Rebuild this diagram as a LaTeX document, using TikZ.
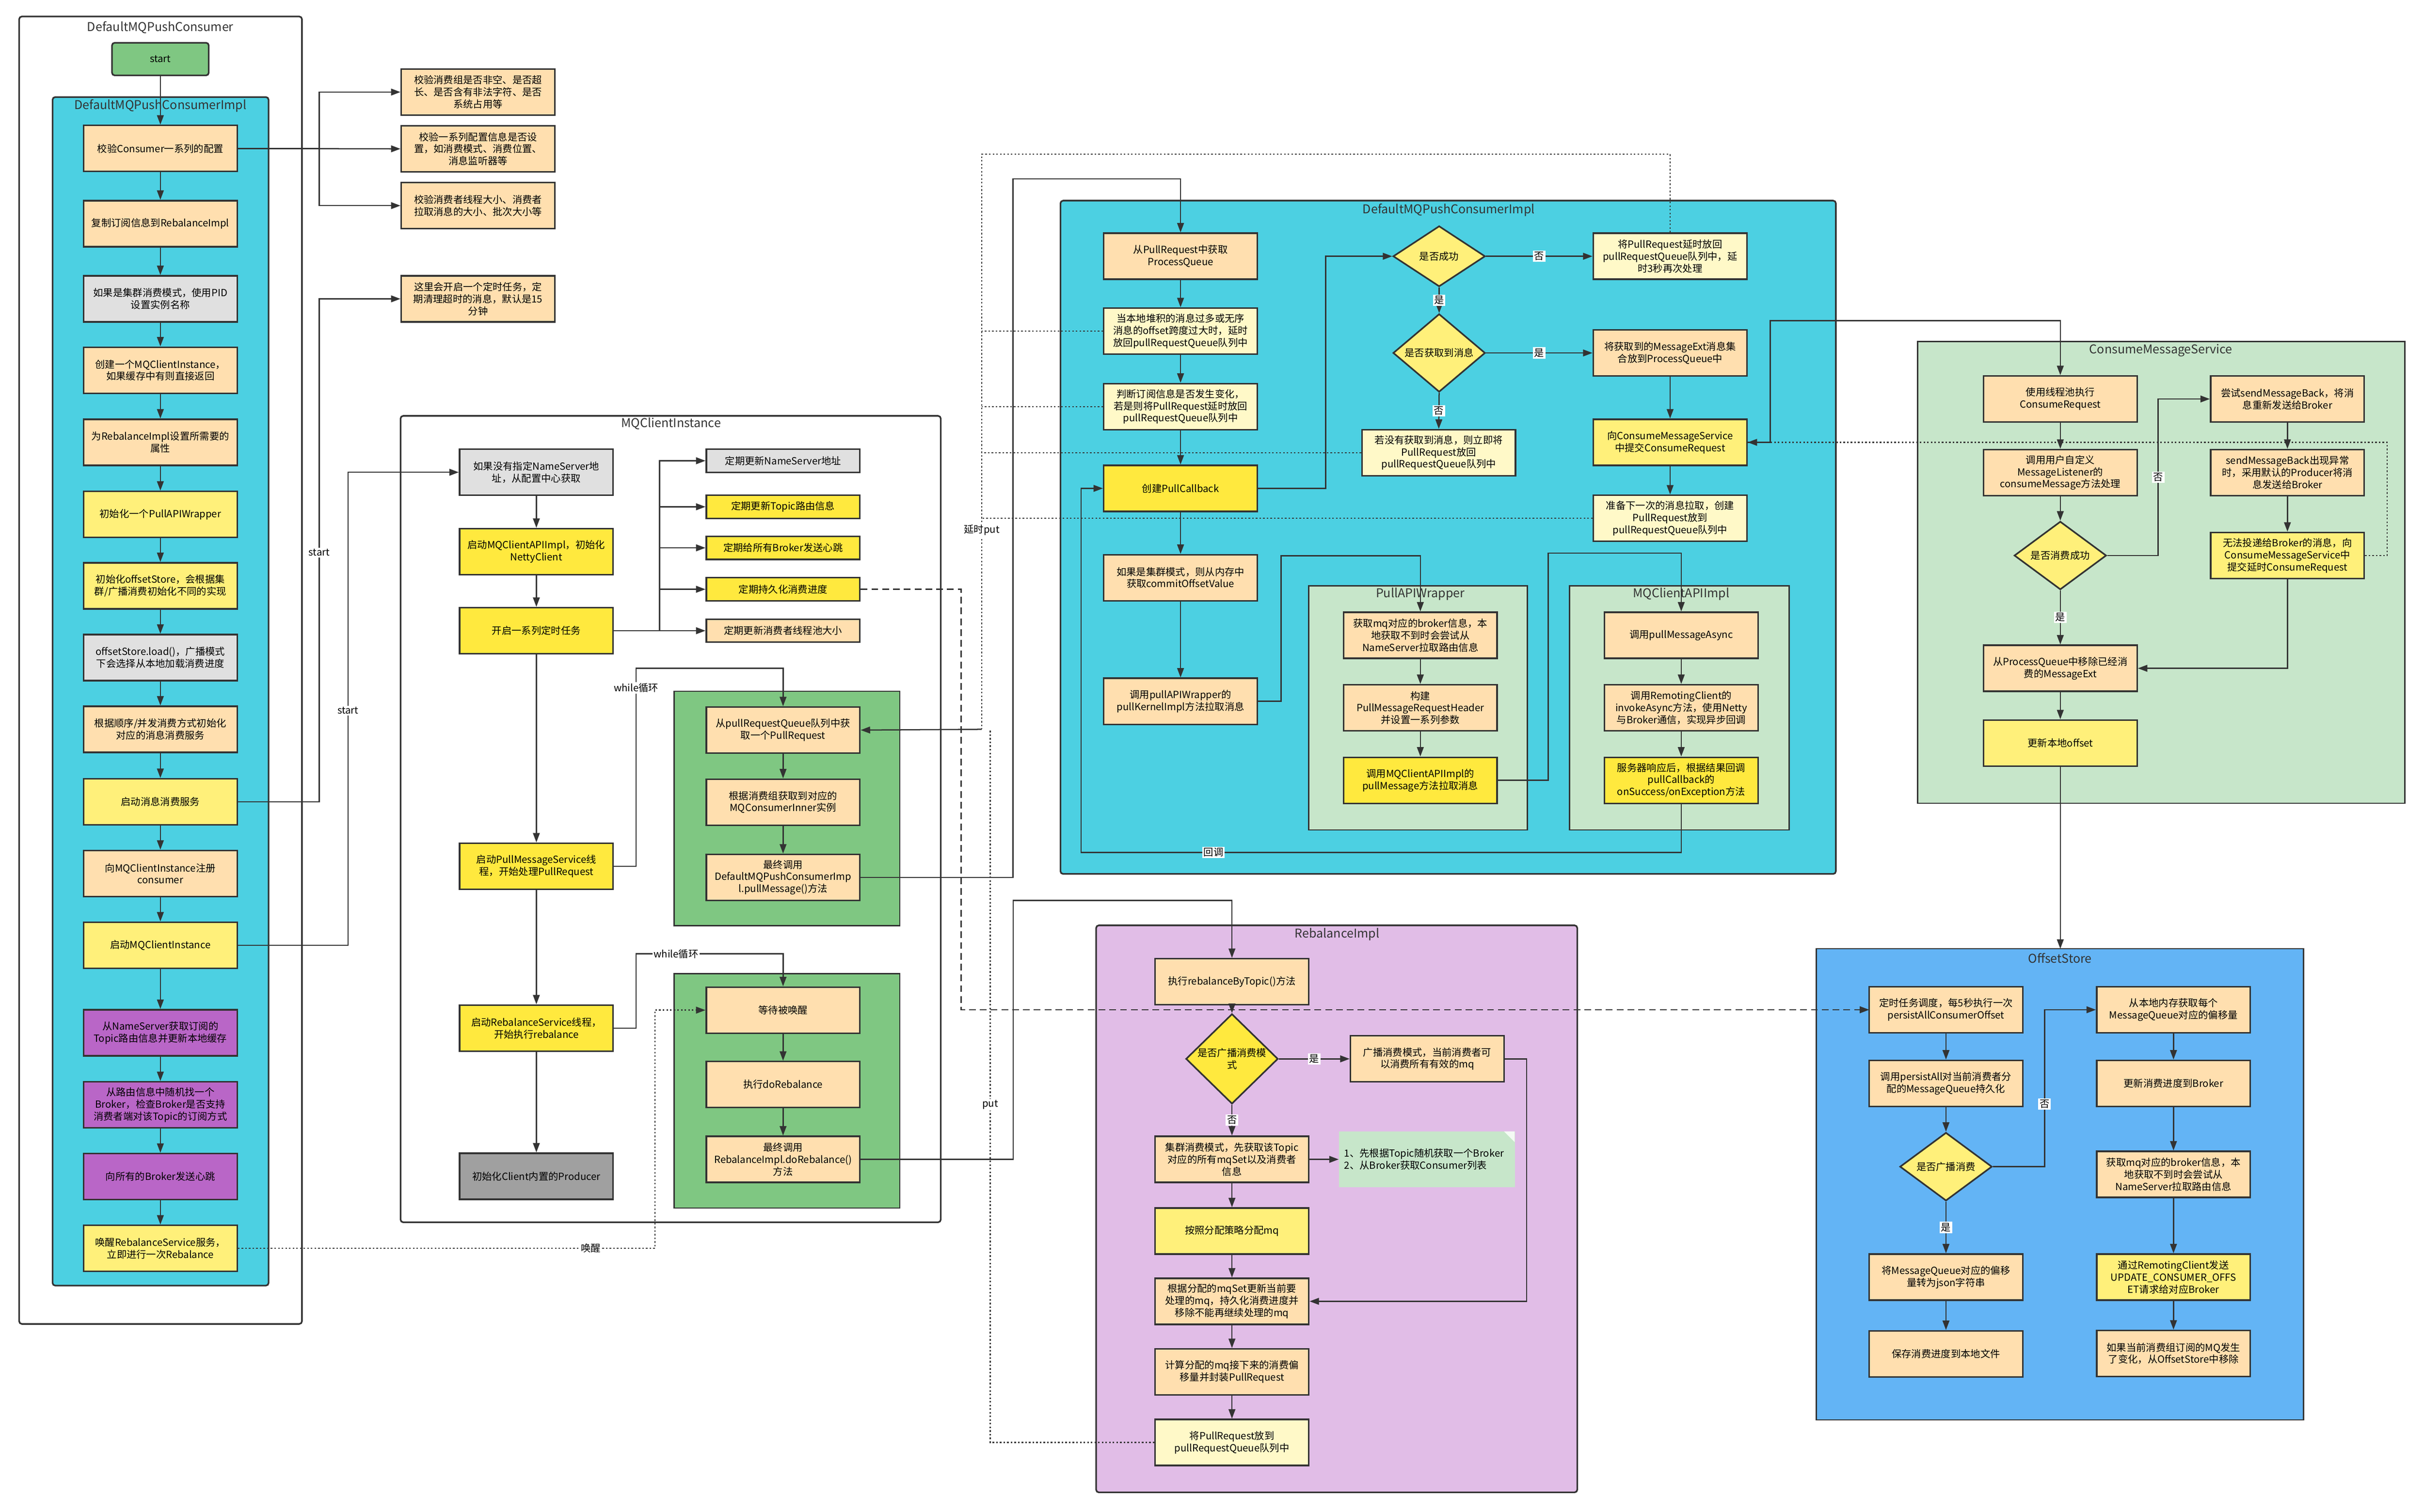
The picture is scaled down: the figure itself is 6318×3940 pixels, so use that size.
\documentclass[tikz,border=0pt]{standalone}
\usepackage{fontspec}
\setmainfont{Noto Sans CJK SC}
\usetikzlibrary{arrows.meta,shapes.geometric,shapes.misc}
\definecolor{peach}{HTML}{FFDFAF}
\definecolor{ylight}{HTML}{FFF07A}
\definecolor{ybright}{HTML}{FFE93E}
\definecolor{cream}{HTML}{FFF9C8}
\definecolor{gray1}{HTML}{E0E0E0}
\definecolor{gray2}{HTML}{A0A0A0}
\definecolor{purp}{HTML}{B966C7}
\definecolor{grn}{HTML}{7FC782}
\definecolor{cyan1}{HTML}{4CD0E2}
\definecolor{lgrn}{HTML}{C7E6CA}
\definecolor{blu}{HTML}{63B4F5}
\definecolor{lilac}{HTML}{E1BDE7}
\definecolor{ln}{HTML}{333333}
\newcommand\fsz{\fontsize{7.3}{8.9}\selectfont}
\newcommand\tsz{\fontsize{9}{11}\selectfont}
\tikzset{
 box/.style={draw=ln,line width=1.2pt,minimum width=4cm,minimum height=1.2cm,inner sep=1pt,align=center,font=\fsz},
 dia/.style={draw=ln,line width=1.2pt,diamond,minimum width=2.4cm,minimum height=1.58cm,inner sep=0pt,align=center,font=\fsz,fill=ylight},
 cont/.style={draw=ln,line width=1.2pt,rounded corners=2pt},
 ttl/.style={font=\tsz,text=ln},
 arr/.style={draw=ln,line width=0.9pt,-{Triangle[length=7pt,width=5pt]}},
 ln0/.style={draw=ln,line width=0.9pt},
 dot/.style={draw=ln,line width=0.9pt,dash pattern=on 1.2pt off 1.5pt},
 dsh/.style={draw=ln,line width=0.9pt,dash pattern=on 5pt off 3pt},
 lab/.style={fill=white,inner sep=1pt,font=\fsz},
}
\begin{document}
\begin{tikzpicture}[x=0.01cm,y=-0.01cm]
\useasboundingbox (0,0) rectangle (6318,3940);
\fill[white] (0,0) rectangle (6318,3940);
% containers
\draw[cont] (50,43) rectangle (787,3451);
\node[ttl] at (418,72) {DefaultMQPushConsumer};
\draw[cont,fill=cyan1] (137,253) rectangle (700,3351);
\node[ttl] at (418,276) {DefaultMQPushConsumerImpl};
\draw[cont] (1044,1084) rectangle (2452,3186);
\node[ttl] at (1749,1104) {MQClientInstance};
\draw[ln0,fill=grn] (1757,1802) rectangle (2345,2413);
\draw[ln0,fill=grn] (1757,2538) rectangle (2345,3149);
\draw[cont,fill=cyan1] (2764,523) rectangle (4785,2278);
\node[ttl] at (3776,548) {DefaultMQPushConsumerImpl};
\draw[ln0,fill=lgrn] (3411,1527) rectangle (3981,2163);
\node[ttl] at (3702,1549) {PullAPIWrapper};
\draw[ln0,fill=lgrn] (4091,1527) rectangle (4663,2163);
\node[ttl] at (4382,1549) {MQClientAPIImpl};
\draw[ln0,fill=lgrn] (4998,890) rectangle (6268,2094);
\node[ttl] at (5632,914) {ConsumeMessageService};
\draw[ln0,fill=blu] (4734,2473) rectangle (6004,3701);
\node[ttl] at (5369,2497) {OffsetStore};
\draw[cont,fill=lilac] (2857,2412) rectangle (4111,3890);
\node[ttl] at (3485,2436) {RebalanceImpl};
% left column
\node[box,fill=grn,minimum width=2.52cm,minimum height=0.85cm,rounded corners=2pt] (start) at (418,154) {start};
\node[box,fill=peach] (l1) at (418,387) {校验Consumer一系列的配置};
\node[box,fill=peach] (l2) at (418,583) {复制订阅信息到RebalanceImpl};
\node[box,fill=gray1] (l3) at (418,779) {如果是集群消费模式，使用PID\\设置实例名称};
\node[box,fill=peach] (l4) at (418,965) {创建一个MQClientInstance，\\如果缓存中有则直接返回};
\node[box,fill=peach] (l5) at (418,1153) {为RebalanceImpl设置所需要的\\属性};
\node[box,fill=ylight] (l6) at (418,1341) {初始化一个PullAPIWrapper};
\node[box,fill=ylight] (l7) at (418,1527) {初始化offsetStore，会根据集\\群/广播消费初始化不同的实现};
\node[box,fill=gray1] (l8) at (418,1714) {offsetStore.load()，广播模式\\下会选择从本地加载消费进度};
\node[box,fill=peach] (l9) at (418,1901) {根据顺序/并发消费方式初始化\\对应的消息消费服务};
\node[box,fill=ylight] (l10) at (418,2090) {启动消息消费服务};
\node[box,fill=peach] (l11) at (418,2277) {向MQClientInstance注册\\consumer};
\node[box,fill=ylight] (l12) at (418,2464) {启动MQClientInstance};
\node[box,fill=purp] (l13) at (418,2692) {从NameServer获取订阅的\\Topic路由信息并更新本地缓存};
\node[box,fill=purp] (l14) at (418,2880) {从路由信息中随机找一个\\Broker，检查Broker是否支持\\消费者端对该Topic的订阅方式};
\node[box,fill=purp] (l15) at (418,3067) {向所有的Broker发送心跳};
\node[box,fill=ylight] (l16) at (418,3254) {唤醒RebalanceService服务，\\立即进行一次Rebalance};
\node[box,fill=peach] (n1) at (1246,240) {校验消费组是否非空、是否超\\长、是否含有非法字符、是否\\系统占用等};
\node[box,fill=peach] (n2) at (1246,388) {校验一系列配置信息是否设\\置，如消费模式、消费位置、\\消息监听器等};
\node[box,fill=peach] (n3) at (1246,536) {校验消费者线程大小、消费者\\拉取消息的大小、批次大小等};
\node[box,fill=peach] (n4) at (1246,779) {这里会开启一个定时任务，定\\期清理超时的消息，默认是15\\分钟};
\foreach \a/\b in {start/l1,l1/l2,l2/l3,l3/l4,l4/l5,l5/l6,l6/l7,l7/l8,l8/l9,l9/l10,l10/l11,l11/l12,l12/l13,l13/l14,l14/l15,l15/l16}
  \draw[arr] (\a.south) -- (\b.north);
\draw[arr] (l1.east) -- (n2.west);
\draw[arr] (l1.east) -| (832,300) |- (n1.west);
\draw[arr] (l1.east) -| (832,480) |- (n3.west);
\draw[arr] (l10.east) -| (832,779) -- (n4.west);
\node[lab] at (832,1440) {start};
% MQClientInstance
\node[box,fill=gray1] (m1) at (1398,1231) {如果没有指定NameServer地\\址，从配置中心获取};
\node[box,fill=ybright] (m2) at (1398,1438) {启动MQClientAPIImpl，初始化\\NettyClient};
\node[box,fill=ybright] (m3) at (1398,1644) {开启一系列定时任务};
\node[box,fill=ybright] (m4) at (1398,2258) {启动PullMessageService线\\程，开始处理PullRequest};
\node[box,fill=ybright] (m5) at (1398,2680) {启动RebalanceService线程，\\开始执行rebalance};
\node[box,fill=gray2] (m6) at (1398,3066) {初始化Client内置的Producer};
\draw[arr] (l12.east) -| (907,1231) -- (m1.west);
\node[lab] at (907,1852) {start};
\foreach \a/\b in {m1/m2,m2/m3,m3/m4,m4/m5,m5/m6} \draw[arr] (\a.south) -- (\b.north);
\node[box,fill=gray1,minimum height=0.6cm] (t1) at (2041,1201) {定期更新NameServer地址};
\node[box,fill=ybright,minimum height=0.6cm] (t2) at (2041,1321) {定期更新Topic路由信息};
\node[box,fill=ybright,minimum height=0.6cm] (t3) at (2041,1428) {定期给所有Broker发送心跳};
\node[box,fill=ybright,minimum height=0.6cm] (t4) at (2041,1536) {定期持久化消费进度};
\node[box,fill=peach,minimum height=0.6cm] (t5) at (2041,1644) {定期更新消费者线程池大小};
\draw[arr] (m3.east) -- (t5.west);
\foreach \t in {t1,t2,t3,t4} \draw[arr] (m3.east) -| (1719,1600) |- (\t.west);
\node[box,fill=peach] (g1) at (2041,1903) {从pullRequestQueue队列中获\\取一个PullRequest};
\node[box,fill=peach] (g2) at (2041,2091) {根据消费组获取到对应的\\MQConsumerInner实例};
\node[box,fill=peach] (g3) at (2041,2287) {最终调用\\DefaultMQPushConsumerImp\\l.pullMessage()方法};
\node[box,fill=peach] (h1) at (2041,2633) {等待被唤醒};
\node[box,fill=peach] (h2) at (2041,2827) {执行doRebalance};
\node[box,fill=peach] (h3) at (2041,3022) {最终调用\\RebalanceImpl.doRebalance()\\方法};
\foreach \a/\b in {g1/g2,g2/g3,h1/h2,h2/h3} \draw[arr] (\a.south) -- (\b.north);
\draw[arr] (m4.east) -| (1658,1742) -| (g1.north);
\node[lab] at (1658,1793) {while循环};
\draw[arr] (m5.east) -| (1658,2486) -| (h1.north);
\node[lab] at (1762,2486) {while循环};
\draw[dot,-{Triangle[length=7pt,width=5pt]}] (l16.east) -| (1707,2633) -- (h1.west);
\node[lab] at (1540,3254) {唤醒};
\draw[dsh,-{Triangle[length=7pt,width=5pt]}] (t4.east) -| (2505,2632) -- (4872,2632);
% DefaultMQPushConsumerImpl (right)
\node[box,fill=peach] (d1) at (3077,668) {从PullRequest中获取\\ProcessQueue};
\node[box,fill=cream] (d2) at (3077,863) {当本地堆积的消息过多或无序\\消息的offset跨度过大时，延时\\放回pullRequestQueue队列中};
\node[box,fill=cream] (d3) at (3077,1060) {判断订阅信息是否发生变化，\\若是则将PullRequest延时放回\\pullRequestQueue队列中};
\node[box,fill=ybright] (d4) at (3077,1273) {创建PullCallback};
\node[box,fill=peach] (d5) at (3077,1506) {如果是集群模式，则从内存中\\获取commitOffsetValue};
\node[box,fill=peach] (d6) at (3077,1828) {调用pullAPIWrapper的\\pullKernelImpl方法拉取消息};
\node[dia] (q1) at (3751,668) {是否成功};
\node[dia] (q2) at (3751,920) {是否获取到消息};
\node[box,fill=cream] (dn) at (3750,1180) {若没有获取到消息，则立即将\\PullRequest放回\\pullRequestQueue队列中};
\node[box,fill=cream] (e1) at (4353,668) {将PullRequest延时放回\\pullRequestQueue队列中，延\\时3秒再次处理};
\node[box,fill=peach] (e2) at (4353,920) {将获取到的MessageExt消息集\\合放到ProcessQueue中};
\node[box,fill=ylight] (e3) at (4353,1153) {向ConsumeMessageService\\中提交ConsumeRequest};
\node[box,fill=cream] (e4) at (4353,1351) {准备下一次的消息拉取，创建\\PullRequest放到\\pullRequestQueue队列中};
\foreach \a/\b in {d1/d2,d2/d3,d3/d4,d4/d5,d5/d6,e2/e3,e3/e4} \draw[arr] (\a.south) -- (\b.north);
\draw[arr] (g3.east) -| (2640,466) -| (d1.north);
\draw[arr] (d4.east) -| (3455,668) -- (q1.west);
\draw[arr] (q1.east) -- node[lab]{否} (e1.west);
\draw[arr] (q1.south) -- node[lab]{是} (q2.north);
\draw[arr] (q2.east) -- node[lab]{是} (e2.west);
\draw[arr] (q2.south) -- node[lab]{否} (dn.north);
\node[box,fill=peach] (p1) at (3702,1656) {获取mq对应的broker信息，本\\地获取不到时会尝试从\\NameServer拉取路由信息};
\node[box,fill=peach] (p2) at (3702,1845) {构建\\PullMessageRequestHeader\\并设置一系列参数};
\node[box,fill=ybright] (p3) at (3702,2034) {调用MQClientAPIImpl的\\pullMessage方法拉取消息};
\node[box,fill=peach] (a1) at (4382,1656) {调用pullMessageAsync};
\node[box,fill=peach] (a2) at (4382,1845) {调用RemotingClient的\\invokeAsync方法，使用Netty\\与Broker通信，实现异步回调};
\node[box,fill=ybright] (a3) at (4382,2034) {服务器响应后，根据结果回调\\pullCallback的\\onSuccess/onException方法};
\foreach \a/\b in {p1/p2,p2/p3,a1/a2,a2/a3} \draw[arr] (\a.south) -- (\b.north);
\draw[arr] (d6.east) -| (3339,1449) -| (p1.north);
\draw[arr] (p3.east) -| (4035,1442) -| (a1.north);
\draw[arr] (a3.south) |- (2818,2222) |- (d4.west);
\node[lab] at (3163,2222) {回调};
% dotted delayed put
\foreach \n/\y in {d2/863,d3/1060,dn/1180,e4/1351} \draw[dot] (\n.west) -- (2559,\y);
\draw[dot] (e1.north) |- (2559,402) -- (2559,1901);
\node[lab] at (2559,1381) {延时put};
\draw[arr] (2559,1901) -- (g1.east);
% ConsumeMessageService
\node[box,fill=peach] (c1) at (5370,1040) {使用线程池执行\\ConsumeRequest};
\node[box,fill=peach] (c2) at (5370,1232) {调用用户自定义\\MessageListener的\\consumeMessage方法处理};
\node[dia] (cq) at (5370,1448) {是否消费成功};
\node[box,fill=peach] (c4) at (5370,1742) {从ProcessQueue中移除已经消\\费的MessageExt};
\node[box,fill=ylight] (c5) at (5370,1937) {更新本地offset};
\node[box,fill=peach] (s1) at (5962,1040) {尝试sendMessageBack，将消\\息重新发送给Broker};
\node[box,fill=peach] (s2) at (5962,1232) {sendMessageBack出现异常\\时，采用默认的Producer将消\\息发送给Broker};
\node[box,fill=ylight] (s3) at (5962,1448) {无法投递给Broker的消息，向\\ConsumeMessageService中\\提交延时ConsumeRequest};
\draw[arr] (e3.east) -| (4614,836) -| (c1.north);
\draw[arr] (c1.south) -- (c2.north);
\draw[arr] (c2.south) -- (cq.north);
\draw[arr] (cq.south) -- node[lab]{是} (c4.north);
\draw[arr] (c4.south) -- (c5.north);
\draw[arr] (cq.east) -| node[lab,pos=0.75]{否} (5625,1040) -- (s1.west);
\draw[arr] (s1.south) -- (s2.north);
\draw[arr] (s2.south) -- (s3.north);
\draw[arr] (s3.south) |- (c4.east);
\draw[dot,-{Triangle[length=7pt,width=5pt]}] (s3.east) -| (6222,1153) -- (e3.east);
% OffsetStore
\coordinate (ostop) at (5370,2473);
\draw[arr] (c5.south) -- (ostop);
\node[box,fill=peach] (o1) at (5072,2632) {定时任务调度，每5秒执行一次\\persistAllConsumerOffset};
\node[box,fill=peach] (o2) at (5072,2824) {调用persistAll对当前消费者分\\配的MessageQueue持久化};
\node[dia] (oq) at (5072,3041) {是否广播消费};
\node[box,fill=peach] (o4) at (5072,3329) {将MessageQueue对应的偏移\\量转为json字符串};
\node[box,fill=peach] (o5) at (5072,3529) {保存消费进度到本地文件};
\node[box,fill=peach] (x1) at (5665,2632) {从本地内存获取每个\\MessageQueue对应的偏移量};
\node[box,fill=peach] (x2) at (5665,2824) {更新消费进度到Broker};
\node[box,fill=peach] (x3) at (5665,3061) {获取mq对应的broker信息，本\\地获取不到时会尝试从\\NameServer拉取路由信息};
\node[box,fill=ylight] (x4) at (5665,3329) {通过RemotingClient发送\\UPDATE\_CONSUMER\_OFFS\\ET请求给对应Broker};
\node[box,fill=peach] (x5) at (5665,3528) {如果当前消费组订阅的MQ发生\\了变化，从OffsetStore中移除};
\draw[arr] (o1.south) -- (o2.north);
\draw[arr] (o2.south) -- (oq.north);
\draw[arr] (oq.south) -- node[lab]{是} (o4.north);
\draw[arr] (o4.south) -- (o5.north);
\draw[arr] (oq.east) -| node[lab,pos=0.7]{否} (5329,2632) -- (x1.west);
\foreach \a/\b in {x1/x2,x2/x3,x3/x4,x4/x5} \draw[arr] (\a.south) -- (\b.north);
% RebalanceImpl
\node[box,fill=peach] (r1) at (3211,2559) {执行rebalanceByTopic()方法};
\node[dia,fill=ybright] (rq) at (3211,2760) {是否广播消费模\\式};
\node[box,fill=peach] (r3) at (3211,3022) {集群消费模式，先获取该Topic\\对应的所有mqSet以及消费者\\信息};
\node[box,fill=ylight] (r4) at (3211,3209) {按照分配策略分配mq};
\node[box,fill=peach] (r5) at (3211,3392) {根据分配的mqSet更新当前要\\处理的mq，持久化消费进度并\\移除不能再继续处理的mq};
\node[box,fill=peach] (r6) at (3211,3576) {计算分配的mq接下来的消费偏\\移量并封装PullRequest};
\node[box,fill=cream] (r7) at (3211,3760) {将PullRequest放到\\pullRequestQueue队列中};
\node[box,fill=peach] (rb) at (3720,2760) {广播消费模式，当前消费者可\\以消费所有有效的mq};
\node[fill=lgrn,minimum width=4.58cm,minimum height=1.46cm,align=left,font=\fsz,text width=4.3cm] (note) at (3719,3022) {1、先根据Topic随机获取一个Broker\\2、从Broker获取Consumer列表};
\fill[white!80!lgrn] (3948,2949) -- (3920,2949) -- (3948,2977) -- cycle;
\draw[arr] (h3.east) -| (2641,2347) -| (r1.north);
\draw[arr] (r1.south) -- (rq.north);
\draw[arr] (rq.south) -- node[lab]{否} (r3.north);
\draw[arr] (rq.east) -- node[lab]{是} (rb.west);
\draw[arr] (r3.east) -- (note.west);
\foreach \a/\b in {r3/r4,r4/r5,r5/r6,r6/r7} \draw[arr] (\a.south) -- (\b.north);
\draw[arr] (rb.east) -| (3979,3392) -- (r5.east);
\draw[dot] (r7.west) -| (2581,1901);
\node[lab] at (2581,2880) {put};
\end{tikzpicture}
\end{document}
